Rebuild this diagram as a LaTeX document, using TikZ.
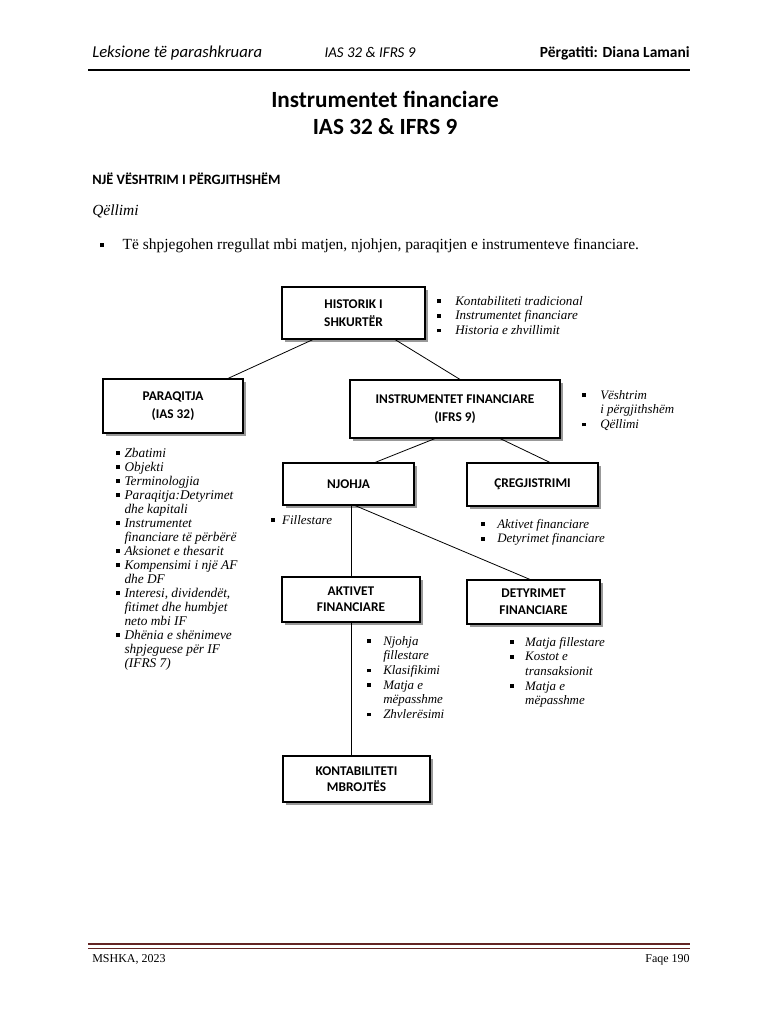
\documentclass[tikz,border=0pt]{standalone}
\usepackage{fontspec}
\setmainfont{Liberation Serif}
\newfontfamily\calibri{Carlito}
\usetikzlibrary{shadows}

\definecolor{footred}{RGB}{99,36,35}
\newcommand\sq{\rule[1.5pt]{2.8pt}{2.8pt}}
\newcommand\blist[2]{\begin{tabular}[t]{@{}l@{\hspace{#1}}l@{}}#2\end{tabular}}

\begin{document}
\begin{tikzpicture}
    [x=0.75pt,y=-0.75pt,
    % Styles
    box/.style={draw,line width=0.8pt,fill=white,align=center,
        font=\calibri\bfseries\fontsize{10}{13.5}\selectfont,
        drop shadow={shadow xshift=2.2pt,shadow yshift=-2.2pt,fill=gray!80,opacity=1}},
    boxsize/.style 2 args={minimum width=#1*0.75pt,minimum height=#2*0.75pt},
    link/.style={line width=0.6pt},
    itemlist/.style={inner sep=0pt,anchor=base west,font=\itshape\fontsize{9.7}{11}\selectfont},
    headtext/.style={inner sep=0pt,font=\calibri\itshape\fontsize{12.5}{14}\selectfont}]

    % Page
    \useasboundingbox[fill=white] (0,0) rectangle (768,1024);

    % Header
    \node[headtext,anchor=base west] (head left) at (92,58) {Leksione të parashkruara};
    \node[headtext,anchor=base,font=\calibri\itshape\fontsize{11.2}{14}\selectfont] (head mid) at (370,58) {IAS 32 \& IFRS 9};
    \node[headtext,anchor=base east,font=\calibri\bfseries\fontsize{11.6}{14}\selectfont] (head right) at (690,58) {Përgatiti: Diana Lamani};
    \draw[line width=1.3pt] (88,70) -- (690,70);

    % Title and intro
    \node[inner sep=0pt,anchor=base,font=\calibri\bfseries\fontsize{17.4}{20}\selectfont] (title1) at (385,108) {Instrumentet financiare};
    \node[inner sep=0pt,anchor=base,font=\calibri\bfseries\fontsize{17.4}{20}\selectfont] (title2) at (385,134) {IAS 32 \& IFRS 9};
    \node[inner sep=0pt,anchor=base west,font=\calibri\bfseries\fontsize{10.7}{12}\selectfont] (overview) at (92,184) {NJË VËSHTRIM I PËRGJITHSHËM};
    \node[inner sep=0pt,anchor=base west,font=\itshape\fontsize{11.6}{13}\selectfont] (aim) at (92,215) {Qëllimi};
    \node[itemlist,font=\fontsize{11.6}{13}\selectfont] (aim list) at (100,249)
        {\blist{14pt}{\sq & Të shpjegohen rregullat mbi matjen, njohjen, paraqitjen e instrumenteve financiare.}};

    % Boxes
    \node[box,boxsize={143}{52}] (hist) at (353.5,313) {HISTORIK I\\SHKURTËR};
    \node[box,boxsize={140}{54}] (paraq) at (173,406) {PARAQITJA\\(IAS 32)};
    \node[box,boxsize={210}{58}] (instr) at (455,409) {INSTRUMENTET FINANCIARE\\(IFRS 9)};
    \node[box,boxsize={131}{42}] (njohja) at (348.5,484) {NJOHJA};
    \node[box,boxsize={131}{43}] (cregj) at (532.5,484.5) {ÇREGJISTRIMI};
    \node[box,boxsize={138}{45},font=\calibri\bfseries\fontsize{10}{12}\selectfont] (aktiv) at (351,599.5) {AKTIVET\\FINANCIARE};
    \node[box,boxsize={133}{44},font=\calibri\bfseries\fontsize{10}{12.5}\selectfont] (detyr) at (533.5,602) {DETYRIMET\\FINANCIARE};
    \node[box,boxsize={147}{46},font=\calibri\bfseries\fontsize{10}{12}\selectfont] (kontab) at (356.5,779) {KONTABILITETI\\MBROJTËS};

    % Connectors
    \draw[link] ([xshift=-30.4pt]hist.south) -- ([xshift=41.2pt]paraq.north);
    \draw[link] ([xshift=31.1pt]hist.south) -- ([xshift=3.8pt]instr.north);
    \draw[link] ([xshift=-15pt]instr.south) -- ([xshift=19.9pt]njohja.north);
    \draw[link] ([xshift=33.8pt]instr.south) -- ([xshift=13.1pt]cregj.north);
    \draw[link] (aktiv.north) -- (aktiv.north |- njohja.south);
    \draw[link] ([xshift=4.9pt]njohja.south) -- ([xshift=-2.6pt]detyr.north);
    \draw[link] (aktiv.south) -- (aktiv.south |- kontab.north);

    % Lists
    \node[itemlist,font=\itshape\fontsize{9.8}{11}\selectfont] (hist list) at (437,305) {\blist{10.7pt}{%
        \sq & Kontabiliteti tradicional\\
        \sq & Instrumentet financiare\\
        \sq & Historia e zhvillimit}};
    \node[itemlist] (instr list) at (582,399) {\blist{10.7pt}{%
        \sq & Vështrim\\
            & i përgjithshëm\\
        \sq & Qëllimi}};
    \node[itemlist,font=\itshape\fontsize{10}{10.5}\selectfont] (paraq list) at (116,457) {\blist{3.4pt}{%
        \sq & Zbatimi\\
        \sq & Objekti\\
        \sq & Terminologjia\\
        \sq & Paraqitja:Detyrimet\\
            & dhe kapitali\\
        \sq & Instrumentet\\
            & financiare të përbërë\\
        \sq & Aksionet e thesarit\\
        \sq & Kompensimi i një AF\\
            & dhe DF\\
        \sq & Interesi, dividendët,\\
            & fitimet dhe humbjet\\
            & neto mbi IF\\
        \sq & Dhënia e shënimeve\\
            & shpjeguese për IF\\
            & (IFRS 7)}};
    \node[itemlist] (njohja list) at (271,524) {\blist{5.4pt}{\sq & Fillestare}};
    \node[itemlist] (cregj list) at (481,528) {\blist{9.2pt}{%
        \sq & Aktivet financiare\\
        \sq & Detyrimet financiare}};
    \node[itemlist] (aktiv list) at (367,645) {\blist{9.2pt}{%
        \sq & Njohja\\
            & fillestare\\
        \sq & Klasifikimi\\
        \sq & Matja e\\
            & mëpasshme\\
        \sq & Zhvlerësimi}};
    \node[itemlist] (detyr list) at (510,646) {\blist{8.4pt}{%
        \sq & Matja fillestare\\
        \sq & Kostot e\\
            & transaksionit\\
        \sq & Matja e\\
            & mëpasshme}};

    % Footer
    \draw[footred,line width=2.2pt] (88,944) -- (690,944);
    \draw[footred,line width=0.6pt] (88,948) -- (690,948);
    \node[inner sep=0pt,anchor=base west,font=\fontsize{9}{11}\selectfont] (foot left) at (92,962) {MSHKA, 2023};
    \node[inner sep=0pt,anchor=base east,font=\fontsize{9}{11}\selectfont] (foot right) at (690,962) {Faqe 190};
\end{tikzpicture}
\end{document}
